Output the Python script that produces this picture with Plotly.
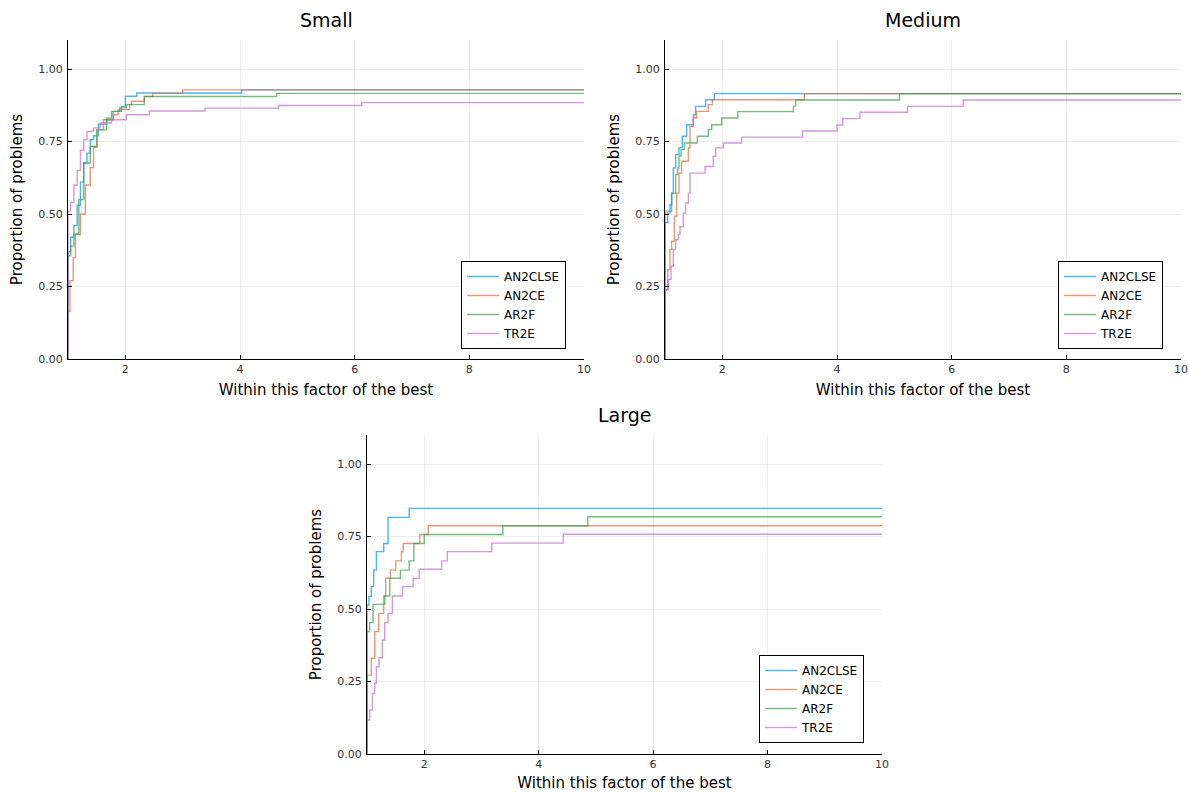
import plotly.graph_objects as go

solvers = ["AN2CLSE", "AN2CE", "AR2F", "TR2E"]
colors = ["#009AFA", "#E36F47", "#3EA44E", "#C371D2"]
panels = ["Small", "Medium", "Large"]
x_ticks = [2, 4, 6, 8, 10]
y_ticks = [0.0, 0.25, 0.5, 0.75, 1.0]
y_tick_text = ["0.00", "0.25", "0.50", "0.75", "1.00"]

# ---- Small ----
small_an2clse_x = [1.0, 1.0, 1.046, 1.103, 1.16, 1.217, 1.274, 1.331, 1.389, 1.446, 1.531, 1.674, 1.789, 1.931, 2.0, 2.2, 4.03, 10.0]
small_an2clse_y = [0.0, 0.37, 0.42, 0.46, 0.53, 0.61, 0.676, 0.71, 0.756, 0.77, 0.81, 0.825, 0.854, 0.871, 0.906, 0.917, 0.928, 0.928]
small_an2ce_x = [1.0, 1.0, 1.034, 1.091, 1.131, 1.217, 1.303, 1.389, 1.446, 1.503, 1.617, 1.789, 1.874, 2.074, 2.103, 2.331, 2.48, 3.0, 10.0]
small_an2ce_y = [0.0, 0.164, 0.27, 0.35, 0.43, 0.50, 0.60, 0.66, 0.73, 0.79, 0.825, 0.842, 0.86, 0.877, 0.889, 0.905, 0.916, 0.928, 0.928]
small_ar2f_x = [1.0, 1.0, 1.046, 1.103, 1.189, 1.274, 1.389, 1.503, 1.674, 1.76, 1.903, 2.017, 2.331, 4.64, 10.0]
small_ar2f_y = [0.0, 0.356, 0.39, 0.43, 0.55, 0.676, 0.733, 0.79, 0.83, 0.854, 0.866, 0.877, 0.905, 0.916, 0.916]
small_tr2e_x = [1.0, 1.0, 1.046, 1.103, 1.16, 1.217, 1.274, 1.331, 1.446, 1.56, 1.76, 2.017, 2.417, 3.39, 4.67, 6.12, 10.0]
small_tr2e_y = [0.0, 0.51, 0.54, 0.60, 0.65, 0.72, 0.756, 0.785, 0.797, 0.814, 0.825, 0.842, 0.855, 0.865, 0.874, 0.884, 0.884]

# ---- Medium ----
medium_an2clse_x = [1.0, 1.0, 1.047, 1.087, 1.116, 1.145, 1.186, 1.244, 1.302, 1.378, 1.494, 1.535, 1.709, 1.86, 10.0]
medium_an2clse_y = [0.0, 0.471, 0.503, 0.532, 0.572, 0.659, 0.705, 0.728, 0.768, 0.808, 0.842, 0.871, 0.894, 0.915, 0.915]
medium_an2ce_x = [1.0, 1.0, 1.047, 1.087, 1.116, 1.163, 1.203, 1.244, 1.29, 1.407, 1.436, 1.494, 1.552, 1.756, 1.826, 3.43, 10.0]
medium_an2ce_y = [0.0, 0.239, 0.308, 0.377, 0.406, 0.492, 0.572, 0.641, 0.682, 0.728, 0.802, 0.831, 0.854, 0.877, 0.894, 0.915, 0.915]
medium_ar2f_x = [1.0, 1.0, 1.116, 1.186, 1.22, 1.244, 1.28, 1.337, 1.564, 1.756, 1.814, 1.99, 2.27, 3.24, 3.28, 5.09, 10.0]
medium_ar2f_y = [0.0, 0.509, 0.572, 0.636, 0.659, 0.70, 0.722, 0.745, 0.768, 0.791, 0.808, 0.831, 0.853, 0.872, 0.893, 0.915, 0.915]
medium_tr2e_x = [1.0, 1.0, 1.058, 1.105, 1.145, 1.186, 1.233, 1.262, 1.32, 1.36, 1.407, 1.436, 1.698, 1.843, 1.884, 2.017, 2.337, 3.40, 4.0, 4.10, 4.40, 5.23, 6.20, 10.0]
medium_tr2e_y = [0.0, 0.239, 0.274, 0.32, 0.377, 0.411, 0.429, 0.457, 0.503, 0.538, 0.572, 0.641, 0.664, 0.699, 0.728, 0.745, 0.765, 0.786, 0.807, 0.829, 0.851, 0.871, 0.893, 0.893]

# ---- Large ----
large_an2clse_x = [1.0, 1.0, 1.035, 1.076, 1.117, 1.164, 1.292, 1.368, 1.737, 10.0]
large_an2clse_y = [0.0, 0.514, 0.543, 0.577, 0.634, 0.698, 0.726, 0.816, 0.847, 0.847]
large_an2ce_x = [1.0, 1.0, 1.076, 1.135, 1.205, 1.292, 1.327, 1.409, 1.503, 1.602, 1.632, 1.924, 2.07, 10.0]
large_an2ce_y = [0.0, 0.272, 0.33, 0.422, 0.485, 0.545, 0.606, 0.634, 0.666, 0.698, 0.726, 0.757, 0.787, 0.787]
large_ar2f_x = [1.0, 1.0, 1.047, 1.105, 1.31, 1.398, 1.585, 1.737, 1.819, 2.0, 3.374, 4.86, 10.0]
large_ar2f_y = [0.0, 0.422, 0.453, 0.516, 0.545, 0.606, 0.634, 0.666, 0.726, 0.757, 0.787, 0.818, 0.818]
large_tr2e_x = [1.0, 1.0, 1.047, 1.094, 1.135, 1.164, 1.211, 1.269, 1.31, 1.368, 1.444, 1.62, 1.807, 1.912, 2.304, 2.404, 3.18, 4.43, 10.0]
large_tr2e_y = [0.0, 0.117, 0.152, 0.209, 0.244, 0.301, 0.332, 0.393, 0.453, 0.485, 0.545, 0.577, 0.606, 0.637, 0.666, 0.698, 0.727, 0.758, 0.758]

data = {
    "Small": [(small_an2clse_x, small_an2clse_y), (small_an2ce_x, small_an2ce_y),
              (small_ar2f_x, small_ar2f_y), (small_tr2e_x, small_tr2e_y)],
    "Medium": [(medium_an2clse_x, medium_an2clse_y), (medium_an2ce_x, medium_an2ce_y),
               (medium_ar2f_x, medium_ar2f_y), (medium_tr2e_x, medium_tr2e_y)],
    "Large": [(large_an2clse_x, large_an2clse_y), (large_an2ce_x, large_an2ce_y),
              (large_ar2f_x, large_ar2f_y), (large_tr2e_x, large_tr2e_y)],
}

W, H = 1188, 792
# pixel boxes (left, right, top, bottom)
boxes = {"Small": (68, 584, 40, 359), "Medium": (665, 1181, 40, 359), "Large": (367, 882, 435, 754)}
legend_pos = {"Small": (566, 349), "Medium": (1163, 349), "Large": (864, 743)}

fig = go.Figure()
font = "DejaVu Sans"
annotations = []
for i, p in enumerate(panels):
    ax = "" if i == 0 else str(i + 1)
    lg = "legend" if i == 0 else "legend" + str(i + 1)
    for j, s in enumerate(solvers):
        xs, ys = data[p][j]
        fig.add_trace(go.Scatter(
            x=xs, y=ys, mode="lines", name=s, line=dict(color=colors[j], width=1.4, shape="hv"),
            opacity=0.72, xaxis="x" + ax, yaxis="y" + ax, legend=lg, showlegend=True))
    l, r, t, b = boxes[p]
    axis_common = dict(showline=True, linecolor="black", linewidth=1, mirror=False, zeroline=False,
                       showgrid=True, gridcolor="rgba(0,0,0,0.07)", gridwidth=1,
                       ticks="inside", ticklen=4, tickcolor="black", automargin=False,
                       tickfont=dict(family=font, size=11, color="#333333"))
    fig.layout["xaxis" + ax] = dict(axis_common, domain=[l / W, r / W], range=[1, 10],
                                    tickvals=x_ticks, anchor="y" + ax,
                                    title=dict(text="Within this factor of the best",
                                               font=dict(family=font, size=15, color="black"), standoff=9))
    fig.layout["yaxis" + ax] = dict(axis_common, domain=[1 - b / H, 1 - t / H], range=[0, 1.1],
                                    tickvals=y_ticks, ticktext=y_tick_text, anchor="x" + ax,
                                    ticklabelstandoff=2,
                                    title=dict(text="Proportion of problems",
                                               font=dict(family=font, size=15, color="black"), standoff=12))
    lx, ly = legend_pos[p]
    fig.layout[lg] = dict(x=lx / W, y=1 - ly / H, xanchor="right", yanchor="bottom",
                          bgcolor="white", bordercolor="black", borderwidth=1,
                          font=dict(family=font, size=12, color="black"), tracegroupgap=0,
                          itemwidth=32)
    annotations.append(dict(text=p, x=(l + r) / 2 / W, y=1 - (t - 20) / H, xref="paper", yref="paper",
                            xanchor="center", yanchor="middle", showarrow=False,
                            font=dict(family=font, size=19, color="black")))

fig.update_layout(width=W, height=H, margin=dict(l=0, r=0, t=0, b=0),
                  paper_bgcolor="white", plot_bgcolor="white", annotations=annotations,
                  font=dict(family=font))
fig.write_html("out.html", config={"displayModeBar": False},
               post_script="document.body.style.margin='0';document.body.style.padding='0';")
